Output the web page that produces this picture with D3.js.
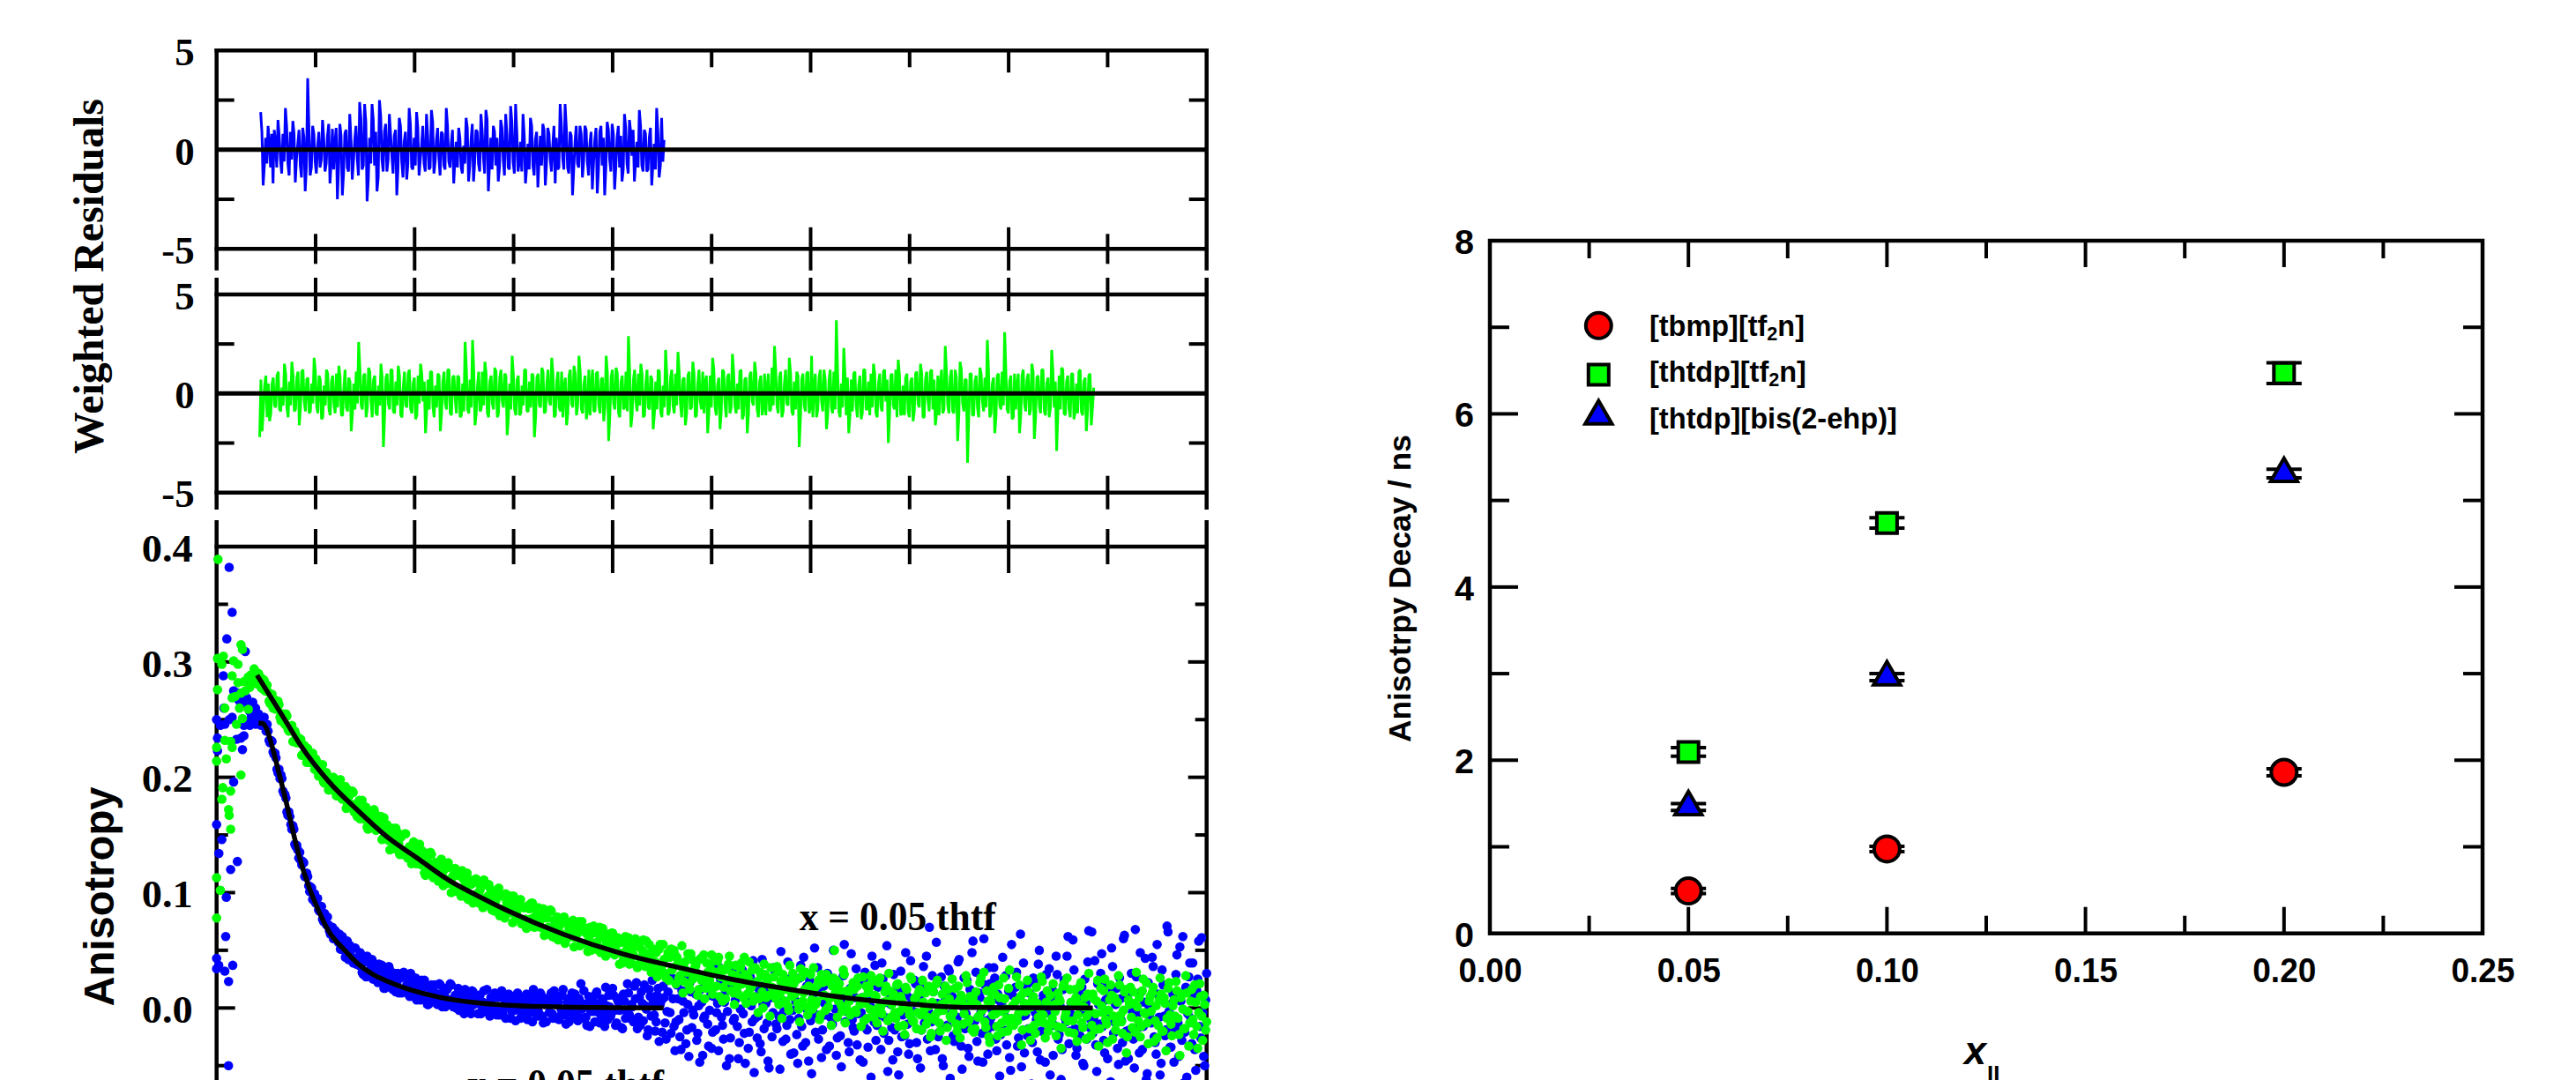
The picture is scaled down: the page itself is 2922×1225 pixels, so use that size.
<!DOCTYPE html>
<html>
<head>
<meta charset="utf-8">
<script src="https://cdn.jsdelivr.net/npm/d3@7"></script>
<style>
  html, body { margin: 0; padding: 0; background: #fff; overflow: hidden; }
  svg { display: block; }
</style>
</head>
<body>
<svg id="fig" width="2922" height="1225"></svg>
<script>
// ================= data =================
// Left stack: time axis runs 0–10 (arbitrary units, 10 minor divisions).

// Weighted residuals of the two fits. "A" samples sit on the residStep grid,
// "B" samples at the midpoints between consecutive "A" samples.
const residStep = 0.025;
const blueResidStart = 0.445;
const blueResidA = [
  1.9,-1.8,0.6,1.2,-0.9,-1.7,0.4,1.5,-0.5,0.8,
  2.1,-0.7,0.9,1.45,-1.65,0.3,-0.8,1.1,-2.1,3.6,
  -1.3,1.2,-0.6,0.2,-0.9,1.5,-1.1,0.7,-1.7,1.05,
  0.3,-2.5,1.3,-2.3,0.8,-0.9,1.8,-1.5,0.5,-0.4,
  2.4,-1.0,2.3,-2.6,0.6,2.3,-0.8,-2.1,2.5,-0.5,
  0.9,-1.1,1.8,-0.3,0.7,-2.3,1.6,-0.6,0.4,-1.5,
  2.1,-0.9,0.6,1.9,-1.3,0.2,-0.7,1.8,-1.0,2.0,
  -1.2,0.5,-0.4,0.9,-0.8,2.1,-0.6,0.3,-1.7,0.4,
  1.1,-0.9,0.2,1.6,-1.6,0.5,-1.6,1.0,-0.7,1.8,
  -0.4,2.0,-2.1,0.6,1.2,-0.8,-1.6,1.5,-0.5,1.8,
  -0.9,2.2,-0.6,2.3,-1.1,0.4,1.8,-1.7,0.3,1.6,
  -0.8,0.5,-1.9,0.7,1.3,-1.8,1.1,-0.5,0.2,-1.7,
  -1.0,2.3,-0.4,2.3,-0.9,0.9,-2.3,0.4,-0.7,1.2,
  -1.4,1.2,-0.6,0.3,-2.0,0.5,-2.2,0.9,-0.8,-2.3,
  1.4,-0.5,1.3,-2.0,0.6,-0.9,-1.6,1.8,-0.7,1.5,
  -0.3,-1.6,0.4,2.0,-0.8,1.0,-1.1,0.6,-1.8,0.3,
  2.1,-1.4,1.6,0.5
];
const blueResidB = [
  0.9,-0.8,-0.7,0.4,0.8,1.0,-0.9,0.7,-1.2,-0.6,
  1.2,-1.3,-0.5,0.8,-0.4,1.0,-1.4,0.6,-0.8,1.1,
  -0.9,0.8,-1.2,0.9,-0.5,0.6,-0.7,1.3,-0.6,-1.0,
  1.1,-0.9,0.7,-1.2,1.0,-1.1,0.5,-0.6,1.2,-1.3,
  1.6,-0.8,1.4,-1.5,-0.7,1.5,0.9,-1.4,1.7,-1.1,
  1.3,-0.5,0.8,-1.2,1.0,-0.9,1.2,-1.4,0.9,-0.7,
  1.3,-1.0,-0.8,1.1,-0.5,1.2,-1.1,0.7,-0.9,1.4,
  -0.6,1.1,-1.3,0.8,-1.0,1.2,-0.9,1.0,-0.5,-0.9,
  0.6,-1.2,-0.7,1.1,-0.8,1.3,-0.6,0.9,-1.1,1.0,
  -1.2,1.5,-0.7,-1.0,0.9,0.6,-0.9,1.1,-1.3,0.8,
  -1.0,1.4,-1.2,0.9,-0.6,-1.1,0.7,-0.8,-1.0,1.2,
  -1.3,0.9,-0.5,-0.8,1.0,-0.7,0.8,-1.1,1.2,0.6,
  -0.9,1.3,-1.0,1.1,-1.2,0.7,-1.0,1.2,-0.9,0.8,
  -0.6,1.0,-1.3,0.9,-0.7,1.1,-1.0,1.2,0.6,-0.8,
  1.0,-1.1,0.8,-0.9,1.2,0.7,-1.0,1.1,-1.2,0.9,
  1.0,-0.6,-0.9,1.2,-1.1,0.8,-1.0,1.1,-0.7,-1.0,
  0.9,-0.8,-0.6
];
const greenResidStart = 0.435;
const greenResidA = [
  -2.2,-1.9,0.4,-1.2,-1.4,0.5,-0.6,0.9,-0.8,0.3,
  1.5,-0.7,0.6,1.6,-0.9,0.8,-1.6,1.1,-0.4,0.7,
  -1.0,0.5,1.8,-0.6,0.9,-1.3,0.4,1.2,-0.8,0.6,
  -0.5,1.0,1.4,-1.1,0.3,-0.7,0.8,-1.9,0.5,1.1,
  2.6,-0.6,0.9,-1.2,1.3,-0.4,0.7,-1.0,0.4,1.5,
  -2.7,0.8,-0.5,1.2,-0.9,0.6,1.4,-1.1,0.3,-0.6,
  1.0,-0.8,0.5,-1.3,0.9,1.5,-0.4,-2.0,0.7,1.1,
  -0.7,0.4,1.0,-1.9,0.6,-0.5,1.2,-1.0,0.8,-0.3,
  0.9,-1.2,0.5,2.6,-0.8,0.7,2.7,-1.6,0.4,-0.9,
  1.1,1.6,-1.0,0.6,-0.5,1.3,-1.2,0.8,-0.4,1.0,
  -2.1,0.5,1.9,-0.8,0.7,-1.1,0.4,1.2,-0.9,0.6,
  1.0,-2.2,0.8,-0.6,1.3,-1.0,0.5,-0.4,1.8,-1.2,
  0.6,-0.7,1.1,0.3,-1.6,0.9,-0.5,1.4,-1.1,1.9,
  -0.8,0.5,-1.3,1.2,0.4,-0.9,1.0,-0.6,0.7,-1.4,
  1.9,-2.4,0.8,-0.5,1.3,-1.0,0.6,-0.8,1.1,2.9,
  -1.7,0.7,-0.4,1.0,1.5,-1.2,0.5,-0.7,0.9,-1.8,
  0.6,1.2,-0.9,0.4,2.2,-1.1,0.8,-0.6,1.0,2.1,
  -0.5,0.7,-1.6,0.9,-0.8,1.6,-1.2,0.5,-0.4,1.1,
  0.6,-2.0,0.9,1.8,-0.7,0.4,-1.8,1.2,-0.5,0.8,
  -1.0,2.0,-0.6,0.5,1.1,-1.3,0.7,-2.0,0.9,-0.4,
  1.6,-0.8,0.6,-1.1,1.0,0.3,-0.9,1.3,2.4,-0.6,
  0.8,-1.2,0.5,-0.5,1.8,-0.9,0.6,1.1,-2.7,0.7,
  -0.6,1.0,-1.0,1.9,0.4,-1.2,0.8,-0.4,1.2,-1.8,
  0.6,-0.7,1.1,3.7,-0.9,0.5,2.3,-1.1,-2.0,0.7,
  1.0,-0.6,0.4,-1.3,1.2,-0.8,0.6,1.0,1.5,-1.0,
  0.5,-0.7,1.1,-0.4,-2.5,0.9,-0.6,1.2,1.7,-1.1,
  0.4,0.8,-0.9,0.6,-1.4,1.0,-0.5,1.5,-1.2,0.7,
  -0.3,1.1,-0.8,-1.6,0.9,0.5,-1.0,2.4,-0.6,0.8,
  -0.9,1.2,-2.4,1.6,-0.5,0.7,-3.5,1.0,-1.1,0.6,
  -0.7,1.3,-0.4,0.8,2.7,-1.2,0.5,-2.0,0.9,-0.6,
  1.1,3.1,-0.8,0.6,-1.3,1.0,0.4,-2.0,0.9,-0.5,
  0.7,-1.1,1.5,-2.3,0.8,-0.6,1.2,-0.9,0.5,-1.2,
  2.2,-0.7,-2.9,0.9,1.3,-1.0,0.6,-0.8,1.0,-1.3,
  0.5,1.1,-0.9,0.6,-1.9,0.9,-1.6,0.3
];
const greenResidB = [
  0.7,-0.8,0.9,0.5,-1.0,0.8,-0.7,1.1,-0.9,-0.6,
  1.0,-1.2,-0.6,0.9,-0.8,1.1,-0.7,1.2,-0.9,0.8,
  -0.9,-0.5,1.1,-1.0,0.7,-1.2,-0.6,1.0,-1.1,0.9,
  -1.0,-0.7,0.8,-1.1,1.2,-0.9,0.6,-1.0,-0.8,-0.5,
  1.3,-0.8,1.0,-0.7,1.1,-1.2,0.9,-1.1,-0.6,0.8,
  -1.1,1.0,-0.8,1.2,-1.0,-0.6,0.9,-1.2,1.1,-0.7,
  1.2,-1.0,0.8,-1.1,-0.5,1.0,0.6,-0.9,-0.8,1.1,
  -1.2,-0.7,0.9,-1.0,1.1,-0.8,1.2,-1.1,0.9,-1.0,
  0.8,-1.1,-0.9,1.3,-1.0,-0.7,1.2,-1.0,1.1,-0.8,
  -0.6,1.0,-1.2,0.9,-0.8,1.1,-1.0,1.2,-0.7,0.9,
  -1.2,-0.8,1.0,-1.1,0.9,-1.0,-0.6,1.2,-0.9,-0.7,
  0.9,-1.2,1.0,-0.7,1.1,-0.9,1.2,-0.6,1.0,-1.1,
  1.1,-0.9,-1.2,0.8,-1.0,1.2,-0.7,1.0,-0.6,1.1,
  -1.0,0.9,-0.8,-1.1,1.2,-0.9,1.1,-1.0,0.8,-0.7,
  1.0,-1.1,1.2,-0.8,1.0,-1.2,0.9,-0.7,-0.9,1.1,
  -1.1,1.2,-0.9,-0.6,1.0,-1.1,1.2,-0.8,0.7,-1.0,
  -0.8,1.1,-1.2,-0.7,1.0,-0.9,1.2,-1.0,-0.6,1.1,
  -1.2,0.8,-1.0,1.1,-0.7,1.0,-1.1,1.2,-0.8,-1.0,
  0.9,-1.0,-0.7,1.2,-1.1,0.8,-0.9,1.1,-1.2,1.0,
  -0.7,1.1,-1.0,-0.8,1.2,-1.1,0.8,-1.0,1.1,-0.6,
  1.0,-1.2,0.9,-0.7,-1.1,1.0,-0.8,-0.6,1.2,-1.0,
  1.1,-0.9,1.2,-0.6,1.0,-1.1,-0.8,0.9,-1.2,1.0,
  -0.9,1.1,-0.7,-1.2,1.0,-0.8,1.2,-0.9,0.7,-1.1,
  1.2,-1.0,-0.8,1.1,-1.2,-0.7,1.0,0.8,-1.1,-0.9,
  1.1,-1.2,0.9,-1.0,1.2,-0.8,-1.1,-0.7,1.0,-1.2,
  1.0,-0.9,1.2,0.7,-1.1,1.0,-0.8,-1.2,0.9,-1.0,
  -1.1,1.0,-1.2,0.8,-0.9,1.1,-0.7,1.0,-1.2,1.1,
  -0.9,1.2,0.7,-1.0,-1.1,1.2,-0.8,1.1,-1.0,1.2,
  -1.0,0.8,-1.1,1.2,-0.9,0.7,-1.2,1.0,-1.1,0.9,
  -1.2,1.0,-0.9,-0.7,1.1,-1.0,0.8,-1.2,1.0,-0.8,
  -0.6,1.1,-1.0,0.9,-1.2,-0.8,1.0,-1.1,1.2,-0.9,
  1.0,-0.8,1.1,-1.2,0.9,-1.0,1.2,-1.1,0.8,-0.7,
  1.1,0.6,-1.0,-0.8,1.2,-1.1,0.9,-1.2,1.0,-0.9,
  -1.0,1.2,-1.1,0.8,-0.9,1.0,-0.7
];

// Anisotropy data, in units of 1e-3.
// Rising edge: irregular [time, r] pairs.
const blueRise = [
  [0.000,250],[0.009,234],[0.009,223],[0.000,159],[0.000,43],[0.000,34],[0.022,37],
  [0.023,134],[0.038,245],[0.053,146],[0.068,288],[0.074,260],[0.083,32],[0.083,246],
  [0.098,96],[0.092,62],[0.103,320],[0.121,23],[0.120,-50],[0.127,382],[0.127,250],
  [0.142,120],[0.157,343],[0.157,252],[0.163,37],[0.172,196],[0.172,275],[0.201,233],
  [0.210,127],[0.216,273],[0.216,268],[0.231,266],[0.246,234],[0.261,224],[0.276,236],
  [0.276,264],[0.276,245],[0.290,309],[0.290,247],[0.305,269],[0.320,260],[0.335,245],
  [0.335,257],[0.350,252],[0.365,265],[0.380,249],[0.394,260],[0.394,246],[0.410,253],[0.424,255]
];
const greenRise = [
  [0.014,389],[0.009,303],[0.068,305],[0.053,298],[0.172,301],[0.216,298],[0.246,315],
  [0.261,311],[0.157,288],[0.216,282],[0.276,283],[0.320,287],[0.379,294],[0.350,289],
  [0.290,275],[0.335,278],[0.246,273],[0.157,269],[0.231,260],[0.320,259],[0.201,246],
  [0.261,251],[0.009,276],[0.083,260],[0.083,232],[0.142,231],[0.157,226],[0.000,226],
  [0.000,214],[0.098,216],[0.246,202],[0.062,191],[0.142,188],[0.053,181],[0.121,172],
  [0.127,167],[0.142,155],[0.000,113],[0.038,102],[0.000,78],[0.365,282],[0.394,286],
  [0.410,281],[0.424,290],[0.305,284],[0.187,270]
];
// Decay: a 0.01 grid stored as two interleaved halves.
// "A" samples sit at decayStartA + i*decayStep, "B" samples at decayStartB + i*decayStep.
const decayStartA = 0.44, decayStartB = 0.45, decayStep = 0.02;
const blueDecayA = [
  251,246,252,240,240,230,231,220,217,204, 199,199,186,182,167,166,155,155,140,137,
  135,124,126,114,114,101,104,97,91,95, 84,88,75,79,79,67,69,60,67,63,
  64,51,56,44,58,47,51,39,52,39, 37,46,29,40,45,30,35,25,38,29,
  38,23,30,17,31,36,22,16,30,22, 13,26,30,16,20,12,30,16,23,7,
  22,7,18,24,10,3,18,11,20,5, 8,20,1,12,17,3,21,5,9,0,
  17,2,9,-5,12,6,-1,15,3,9, -5,11,1,15,-3,4,-7,8,11,-1,
  9,-6,15,0,-9,6,11,-3,4,-11, 13,-1,-7,8,3,-10,10,-4,16,1,
  -7,6,11,-13,3,8,-4,13,-9,4, 10,-10,-1,16,-6,5,-12,7,1,12,
  -6,8,21,-9,3,-15,10,-3,6,-12, 14,-4,-10,7,-16,2,11,-7,17,-2,
  -13,5,9,-18,6,-3,13,-9,1,19, 22,-8,-15,4,20,-1,-19,10,24,-6,
  -12,17,3,-21,9,-27,14,-4,26,-16, -12,8,-25,15,-4,-31,3,22,-17,-6,
  12,-22,-47,5,-9,28,-14,-2,-35,10, -19,4,35,-8,-27,14,-3,-44,18,-11,
  7,-16,-30,24,-5,-48,11,-21,2,41, -9,-26,16,-38,3,20,-13,-52,9,-4,
  30,-18,-7,49,-29,6,-15,25,-40,-2, 13,-23,-9,37,-33,1,19,-46,-11,8,
  52,-6,-27,15,-19,4,-36,28,-8,-14, 22,-41,7,-24,11,55,-3,-30,17,-10,
  -20,34,-5,-45,9,-16,26,-34,2,45, -12,-28,18,-6,39,-22,5,-55,12,-17,
  29,-9,-38,16,-25,3,48,-14,-31,8, -3,21,-44,10,-19,36,-7,-27,70,-12,
  14,-36,4,-21,27,-50,9,-15,32,-5, -24,17,-8,42,-33,1,-18,24,-42,6,
  58,-11,-29,13,-4,-47,20,-20,35,-9, -16,26,-37,7,-23,44,-2,-32,15,-54,
  11,-13,31,-26,64,-7,-39,19,-18,3, -30,22,-10,38,-45,6,-21,29,-4,-58,
  16,-15,45,-27,2,-36,24,-12,62,-20, -6,33,-41,10,-24,18,-50,4,40,-17,
  66,-9,-32,21,-14,47,-28,7,-44,13, 52,-22,3,-35,26,-11,60,-46,9,-19,
  30,-27,68,-5,-39,14,-16,43,-57,1, -13,36,-30,55,-8,-48,20,-24,71,-3,
  -34,12,-18,46,-42,6,62,-21,-60,27, -9,39,-36,15,58,-26,-4,-50,30
];
const blueDecayB = [
  245,251,244,246,232,232,222,221,207,207, 202,188,185,170,170,159,158,142,141,130,
  128,127,114,117,106,105,94,99,91,85, 87,77,82,72,72,64,70,63,65,57,
  51,62,50,56,42,54,44,52,38,44, 48,31,41,27,41,31,42,26,33,22,
  24,37,17,32,24,33,17,27,14,30, 27,13,31,16,26,10,21,12,26,15,
  8,24,11,20,3,17,20,7,13,3, 21,5,14,1,16,7,20,1,11,4,
  -2,12,3,16,0,8,-5,14,5,10, 11,-5,5,0,16,-3,9,2,13,-6,
  0,13,-5,7,2,12,-9,9,-2,6, 10,-9,4,-4,12,-1,7,-12,9,1,
  -3,13,-7,7,-12,4,10,-5,15,-9, 5,-7,11,-2,-14,8,-4,13,-9,2,
  -11,6,-1,15,-8,4,-16,9,-3,12, 3,-13,8,-5,18,-10,1,-4,11,-15,
  7,-2,-17,12,-9,21,-6,3,-12,8, -18,9,14,-11,2,-24,16,-7,5,-20,
  11,-29,6,19,-13,-3,28,-22,8,-37, 20,-10,-36,6,27,-19,-42,14,-2,33,
  -28,2,16,-41,-7,23,-33,11,-21,38, -4,-37,25,-15,5,-50,18,-26,31,-9,
  14,-44,-1,33,-22,9,-35,27,-12,-56, 22,-7,-31,42,-18,4,-46,15,-25,35,
  -14,10,-53,21,-3,-27,40,-10,17,-39, 6,-48,26,-16,44,-30,-2,24,-57,12,
  -21,35,-9,-43,19,-6,30,-33,-15,50, -1,-26,13,-51,28,-12,6,-38,47,-17,
  9,-32,23,-4,-47,31,-19,12,-60,20, 37,-15,-2,-36,25,-8,54,-28,3,-45,
  -19,15,-58,32,-6,-24,11,-40,41,-11, 24,-30,7,-52,17,-13,45,-3,-37,28,
  -8,57,-25,2,-44,19,-16,34,-61,10, -29,4,40,-14,-53,26,-5,-35,16,48,
  -18,31,-46,9,-22,60,-11,-40,21,-1, 35,-27,12,-59,3,-19,28,-9,-43,55,
  -13,18,-33,8,-51,39,-6,-24,13,-66, 26,-4,-38,50,-20,11,-47,2,34,-15,
  -41,7,29,-23,-62,16,-9,45,-31,4, 59,-18,-35,12,-3,-48,25,-27,67,-10,
  -22,41,-55,3,30,-16,-39,20,-6,-64, 36,-12,17,-49,8,-30,63,-20,-44,14,
  -3,-52,27,-17,48,-36,5,-62,22,-9, 44,-25,-40,12,-58,33,-7,-19,66,-34,
  4,-47,29,-13,53,-28,-65,18,-5,39, -31,10,-54,25,-16,61,-42,7
];
const greenDecayA = [
  287,277,284,275,274,264,272,267,259,266, 252,255,249,255,242,243,245,231,237,230,
  231,219,228,220,225,213,216,212,216,205, 208,210,196,203,195,189,198,200,189,184,
  196,185,186,192,176,184,174,187,174,166, 180,172,164,172,157,170,166,158,169,156,
  157,166,147,156,159,145,149,138,151,153, 142,148,133,151,135,139,130,139,143,125,
  134,127,136,117,133,126,135,117,121,126, 110,126,115,120,108,126,108,113,103,116,
  115,102,119,105,107,94,111,108,98,112, 93,102,95,111,92,97,104,85,100,93,
  97,80,98,86,99,82,89,85,97,79, 87,92,73,87,77,70,86,91,78,71,
  85,73,77,86,67,78,68,84,70,61, 79,71,62,74,56,74,69,62,76,61,
  64,75,56,67,69,56,61,50,65,68, 57,64,48,69,52,57,49,59,65,46,
  55,48,59,39,57,50,61,42,47,53, 37,56,43,50,37,58,39,45,35,50,
  48,32,55,37,42,26,48,44,33,50, 21,39,28,54,23,33,47,16,42,29,
  37,11,42,24,46,17,31,24,46,18, 31,41,10,34,18,8,35,45,23,13,
  37,18,24,39,9,29,12,40,18,6, 35,23,8,28,0,29,23,11,35,13,
  16,36,3,23,29,6,16,-2,24,30, 12,25,-1,34,6,16,1,19,29,-1,
  17,6,24,-6,22,11,29,1,9,19, 50,24,6,15,-3,29,1,10,-6,18,
  16,-4,26,3,9,-11,19,13,-1,23, -8,10,0,26,-5,5,19,-11,15,3,
  12,-9,21,-3,7,-15,18,1,-6,25, -12,9,-4,16,-19,5,13,-8,2,-22,
  14,-6,24,-13,3,-2,19,-17,8,-9, -4,17,-20,6,11,-14,1,22,-10,4,
  9,-18,3,-7,26,-1,-12,15,-25,5, -6,12,-16,20,-3,-21,8,-9,17,-14,
  2,-11,27,-5,10,-19,4,-2,14,-28, 7,-15,18,-8,-1,23,-13,5,-20,11,
  -9,3,-24,13,6,-17,21,-4,-11,16, 4,-22,9,-6,19,-13,1,-27,12,-3,
  -15,8,-5,24,-18,2,15,-10,-30,7, 11,-7,-19,5,20,-12,-2,16,-25,3,
  -8,14,-21,1,9,-16,25,-5,-13,6, -3,18,-11,-26,7,12,-20,4,-9,22,
  -14,2,-7,15,-23,9,-1,-18,13,-33, 6,-10,20,-16,-4,10,-28,3,-12
];
const greenDecayB = [
  278,285,275,280,266,272,260,267,260,263, 249,255,246,253,240,243,231,240,230,234,
  233,220,227,213,221,214,221,207,214,201, 202,211,195,204,189,199,189,198,184,194,
  198,181,189,173,189,177,188,170,177,168, 164,180,165,174,155,169,161,172,154,166,
  163,146,165,147,155,137,156,144,156,137, 133,149,136,151,130,140,125,144,131,138,
  142,124,130,115,134,121,133,113,126,119, 112,129,106,121,111,122,100,115,121,101,
  117,97,112,100,117,95,107,91,109,99, 91,105,87,108,93,107,88,96,84,101,
  104,83,97,78,92,83,97,74,91,82, 78,94,73,87,69,89,77,91,70,81,
  87,70,79,63,82,70,85,62,76,65, 59,77,64,79,59,73,64,75,53,69,
  71,54,75,56,65,49,70,56,71,51, 54,70,49,61,45,64,53,65,47,59,
  61,38,57,42,62,45,38,55,46,60, 35,53,41,59,36,47,55,31,51,40,
  27,51,34,55,30,44,24,51,35,46, 44,26,36,13,40,31,20,47,25,35,
  30,16,43,27,8,39,22,34,12,41, 19,44,27,6,33,24,38,15,29,3,
  28,12,35,21,44,4,26,17,33,10, 22,-4,31,14,38,9,25,-7,18,27,
  8,33,12,-9,26,19,2,37,10,21, 24,4,-12,27,13,31,-6,16,7,35,
  3,20,-10,29,11,-2,23,8,-15,26, 13,-8,21,2,33,-13,15,6,-4,22,
  -2,19,8,-16,27,4,-9,17,28,-5, 11,-13,22,1,-20,14,6,30,-8,9,
  -4,20,-16,10,3,-23,16,-2,27,-11, 8,-18,13,-6,24,-1,-14,19,-25,5,
  -10,21,-3,-20,12,4,-28,16,-7,25, 3,-14,19,-26,7,-5,28,-12,10,-19,
  -21,14,-8,22,-2,31,-17,6,-30,12, 18,-5,-24,9,-13,26,-1,-20,33,-9,
  -15,6,-11,20,-32,13,-3,24,-18,1, 10,-22,4,-12,27,-6,-26,15,2,-14,
  21,-3,-16,8,-35,19,-8,26,-21,5, -11,16,-29,3,22,-17,9,-7,30,-24,
  12,-19,6,-33,17,-4,25,-14,-2,20, -27,9,-13,28,-6,-22,14,-39,7,18,
  -17,4,31,-11,-25,15,-4,22,-31,10, 13,-29,2,-15,26,-20,9,-37,17,-6,
  -24,7,23,-9,-41,12,-18,28,-3,-13, 16,-23,5,-35,21,-7,11,-19
];

// Fitted decay curves [time, r].
const blueFit = [
  [0.424,0.247],[0.46,0.247],[0.50,0.243],[0.543,0.232],[0.632,0.203],[0.721,0.172],
  [0.780,0.150],[0.839,0.130],[0.928,0.106],[1.017,0.087],[1.136,0.066],[1.284,0.051],
  [1.433,0.038],[1.581,0.029],[1.730,0.023],[2.026,0.014],[2.323,0.0081],[2.620,0.0046],
  [2.916,0.0025],[3.510,0.0008],[4.0,0.0003],[4.515,0.0]
];
const greenFit = [
  [0.409,0.2885],[0.543,0.270],[0.691,0.2497],[0.839,0.229],[1.136,0.196],[1.433,0.1707],
  [1.730,0.1478],[2.026,0.130],[2.323,0.112],[2.620,0.098],[2.916,0.0853],[3.510,0.0637],
  [4.10,0.047],[4.578,0.0369],[5.171,0.0255],[5.764,0.0165],[6.357,0.0089],[6.95,0.0038],
  [7.544,0.0005],[8.85,0.0]
];

const residTickLabels = [-5, 0, 5];
const anisoTickLabels = [0, 0.1, 0.2, 0.3, 0.4];
const curveLabel = 'x = 0.05 thtf';

// Right: anisotropy decay time vs ionic-liquid mole fraction.
const ilFraction = [0.05, 0.10, 0.20];
const tbmpTf2n = [0.49, 0.975, 1.86];
const tbmpTf2nErr = [0.03, 0.03, 0.04];
const thtdpTf2n = [2.095, 4.74, 6.47];
const thtdpTf2nErr = [0.05, 0.06, 0.12];
const thtdpBis = [1.46, 2.96, 5.31];
const thtdpBisErr = [0.04, 0.04, 0.05];
const rightXTicks = [0, 0.05, 0.10, 0.15, 0.20, 0.25];
const rightYTicks = [0, 2, 4, 6, 8];

// ================= drawing =================
const SERIF = "'Liberation Serif','Times New Roman',Times,serif";
const SANS = "'Liberation Sans',Arial,Helvetica,sans-serif";
const BLUE = '#0000ff', GREEN = '#00ff00', RED = '#ff0000';
const svg = d3.select('#fig');

// stretch/squeeze a plain text run to an exact length
function fitLength(sel, len) {
  sel.attr('textLength', len).attr('lengthAdjust', 'spacingAndGlyphs');
}
// interleave grid samples with their midpoint samples
function interleave(a, b) {
  const out = [];
  a.forEach((v, i) => { out.push(v); if (i < b.length) out.push(b[i]); });
  return out;
}

// ---------- left stack ----------
const LX0 = 245.7, LX1 = 1368.7;
const P1 = { top: 57.3, bottom: 282.3 };
const P2 = { top: 334, bottom: 558.7 };
const P3 = { top: 620, zero: 1143.3 };

const xL = d3.scaleLinear().domain([0, 10]).range([LX0, LX1]);
const y1 = d3.scaleLinear().domain([-5, 5]).range([P1.bottom, P1.top]);
const y2 = d3.scaleLinear().domain([-5, 5]).range([P2.bottom, P2.top]);
const y3 = d3.scaleLinear().domain([0, 0.4]).range([P3.zero, P3.top]);

const left = svg.append('g');
const frame = left.append('g').attr('stroke', '#000').attr('fill', 'none');

function hLine(y) {
  frame.append('line').attr('x1', LX0 - 2.2).attr('x2', LX1 + 2.2)
    .attr('y1', y).attr('y2', y).attr('stroke-width', 4.5);
}
function vLines(yA, yB) {
  [LX0, LX1].forEach(x => frame.append('line').attr('x1', x).attr('x2', x)
    .attr('y1', yA).attr('y2', yB).attr('stroke-width', 4.5));
}
function xTicks(y, major, minor) {
  const vals = xL.ticks(10).filter(d => d > 0 && d < 10);
  frame.selectAll(null).data(vals).join('line')
    .attr('x1', d => xL(d)).attr('x2', d => xL(d))
    .attr('y1', d => y + (d % 2 === 0 ? major[0] : minor[0]))
    .attr('y2', d => y + (d % 2 === 0 ? major[1] : minor[1]))
    .attr('stroke-width', 4);
}
function yTicks(scale, vals, lenOf) {
  frame.selectAll(null).data(vals).join('line')
    .attr('x1', LX0).attr('x2', d => LX0 + lenOf(d))
    .attr('y1', d => scale(d)).attr('y2', d => scale(d)).attr('stroke-width', 4);
  frame.selectAll(null).data(vals).join('line')
    .attr('x1', LX1).attr('x2', d => LX1 - lenOf(d))
    .attr('y1', d => scale(d)).attr('y2', d => scale(d)).attr('stroke-width', 4);
}

// panel frames
hLine(P1.top); hLine(P1.bottom); vLines(P1.top - 2.2, 306.7);
hLine(P2.top); hLine(P2.bottom); vLines(315, 578);
hLine(P3.top); vLines(590, 1300);

xTicks(P1.top, [0, 25], [0, 19]);
xTicks(P1.bottom, [-24.5, 24.5], [-17, 17]);
xTicks(P2.top, [-19, 19], [-19, 19]);
xTicks(P2.bottom, [-19, 19], [-19, 19]);
xTicks(P3.top, [-30, 30], [-20, 20]);

yTicks(y1, [-2.5, 2.5], () => 20);
yTicks(y2, [-2.5, 2.5], () => 20);
const anisoTickVals = d3.range(-1, 8).map(k => k * 0.05);
yTicks(y3, anisoTickVals, d => (Math.round(d * 20) % 2 === 0 ? 21 : 13));

// residual traces
const halfStep = residStep / 2;
const resLine = (ys, t0) => d3.line()
  .x((d, i) => xL(t0 + i * halfStep))
  .y(d => ys(d));
left.append('path').datum(interleave(blueResidA, blueResidB))
  .attr('d', resLine(y1, blueResidStart))
  .attr('fill', 'none').attr('stroke', BLUE).attr('stroke-width', 3).attr('stroke-linejoin', 'bevel');
left.append('path').datum(interleave(greenResidA, greenResidB))
  .attr('d', resLine(y2, greenResidStart))
  .attr('fill', 'none').attr('stroke', GREEN).attr('stroke-width', 3).attr('stroke-linejoin', 'bevel');

// zero lines
[y1, y2].forEach(s => left.append('line')
  .attr('x1', LX0).attr('x2', LX1).attr('y1', s(0)).attr('y2', s(0))
  .attr('stroke', '#000').attr('stroke-width', 5));

// residual tick labels
[y1, y2].forEach(s => {
  const ax = left.append('g').attr('transform', `translate(${LX0},0)`)
    .call(d3.axisLeft(s).tickValues(residTickLabels).tickSize(0).tickPadding(25).tickFormat(d => String(d)));
  ax.select('.domain').remove();
  ax.selectAll('text').attr('dy', '0.36em')
    .style('font-family', SERIF).style('font-weight', 'bold').style('font-size', '45px').attr('fill', '#000');
});

// anisotropy tick labels
{
  const ax = left.append('g').attr('transform', `translate(${LX0},0)`)
    .call(d3.axisLeft(y3).tickValues(anisoTickLabels).tickSize(0).tickPadding(27).tickFormat(d3.format('.1f')));
  ax.select('.domain').remove();
  ax.selectAll('text').attr('dy', '0.36em')
    .style('font-family', SERIF).style('font-weight', 'bold').style('font-size', '45px').attr('fill', '#000')
    .call(fitLength, 58);
}

// anisotropy scatter
const toPts = (rise, a, b) => rise.map(d => ({ t: d[0], r: d[1] / 1000 }))
  .concat(a.map((v, i) => ({ t: decayStartA + i * decayStep, r: v / 1000 })))
  .concat(b.map((v, i) => ({ t: decayStartB + i * decayStep, r: v / 1000 })));
const bluePts = toPts(blueRise, blueDecayA, blueDecayB);
const greenPts = toPts(greenRise, greenDecayA, greenDecayB);

left.append('g').attr('fill', BLUE).selectAll('circle').data(bluePts).join('circle')
  .attr('cx', d => xL(d.t)).attr('cy', d => y3(d.r)).attr('r', 5.3);
left.append('g').attr('fill', GREEN).selectAll('circle').data(greenPts).join('circle')
  .attr('cx', d => xL(d.t)).attr('cy', d => y3(d.r)).attr('r', 5.3);

// fits
const fitLine = d3.line().x(d => xL(d[0])).y(d => y3(d[1])).curve(d3.curveMonotoneX);
[blueFit, greenFit].forEach(f => left.append('path').datum(f).attr('d', fitLine)
  .attr('fill', 'none').attr('stroke', '#000').attr('stroke-width', 5.5));

// curve labels
left.append('text').attr('x', 906.7).attr('y', 1055)
  .style('font-family', SERIF).style('font-weight', 'bold').style('font-size', '47px')
  .text(curveLabel).call(fitLength, 223);
left.append('text').attr('x', 530).attr('y', 1244.5)
  .style('font-family', SERIF).style('font-weight', 'bold').style('font-size', '47px')
  .text(curveLabel).call(fitLength, 223);

// axis titles
left.append('text').attr('transform', 'translate(116.5,313.5) rotate(-90)')
  .attr('text-anchor', 'middle')
  .style('font-family', SERIF).style('font-weight', 'bold').style('font-size', '48px')
  .text('Weighted Residuals').call(fitLength, 403);
left.append('text').attr('transform', 'translate(128.5,1017) rotate(-90)')
  .attr('text-anchor', 'middle')
  .style('font-family', SANS).style('font-weight', 'bold').style('font-size', '48px')
  .text('Anisotropy').call(fitLength, 249);

// ---------- right panel ----------
const RX0 = 1690, RX1 = 2816, RY0 = 1058.7, RY1 = 273;
const xR = d3.scaleLinear().domain([0, 0.25]).range([RX0, RX1]);
const yR = d3.scaleLinear().domain([0, 8]).range([RY0, RY1]);
const right = svg.append('g');

right.append('rect').attr('x', RX0).attr('y', RY1).attr('width', RX1 - RX0).attr('height', RY0 - RY1)
  .attr('fill', 'none').attr('stroke', '#000').attr('stroke-width', 4.5);

const rt = right.append('g').attr('stroke', '#000').attr('stroke-width', 4);
const xTickK = d3.range(1, 10);
rt.selectAll(null).data(xTickK).join('line')
  .attr('x1', k => xR(k * 0.025)).attr('x2', k => xR(k * 0.025))
  .attr('y1', RY0).attr('y2', k => RY0 - (k % 2 === 0 ? 30 : 20));
rt.selectAll(null).data(xTickK).join('line')
  .attr('x1', k => xR(k * 0.025)).attr('x2', k => xR(k * 0.025))
  .attr('y1', RY1).attr('y2', k => RY1 + (k % 2 === 0 ? 30 : 20));
const yTickK = d3.range(1, 8);
rt.selectAll(null).data(yTickK).join('line')
  .attr('x1', RX0).attr('x2', k => RX0 + (k % 2 === 0 ? 32 : 22))
  .attr('y1', k => yR(k)).attr('y2', k => yR(k));
rt.selectAll(null).data(yTickK).join('line')
  .attr('x1', RX1).attr('x2', k => RX1 - (k % 2 === 0 ? 32 : 22))
  .attr('y1', k => yR(k)).attr('y2', k => yR(k));

{
  const ax = right.append('g').attr('transform', `translate(0,${RY0})`)
    .call(d3.axisBottom(xR).tickValues(rightXTicks).tickSize(0).tickPadding(28).tickFormat(d3.format('.2f')));
  ax.select('.domain').remove();
  ax.selectAll('text').style('font-family', SANS).style('font-weight', 'bold').style('font-size', '39px')
    .attr('fill', '#000').call(fitLength, 72);
}
{
  const ax = right.append('g').attr('transform', `translate(${RX0},0)`)
    .call(d3.axisLeft(yR).tickValues(rightYTicks).tickSize(0).tickPadding(18).tickFormat(d3.format('d')));
  ax.select('.domain').remove();
  ax.selectAll('text').attr('dy', '0.37em')
    .style('font-family', SANS).style('font-weight', 'bold').style('font-size', '39px')
    .attr('fill', '#000').call(fitLength, 22);
}

// series
const series = [
  { name: '[tbmp][tf₂n]', vals: tbmpTf2n, err: tbmpTf2nErr, fill: RED, sym: d3.symbolCircle, size: 660, w: 176 },
  { name: '[thtdp][tf₂n]', vals: thtdpTf2n, err: thtdpTf2nErr, fill: GREEN, sym: d3.symbolSquare, size: 530, w: 178 },
  { name: '[thtdp][bis(2-ehp)]', vals: thtdpBis, err: thtdpBisErr, fill: BLUE, sym: d3.symbolTriangle, size: 400, w: 281 }
];
series.forEach(s => {
  const pts = ilFraction.map((x, i) => ({ x, y: s.vals[i], e: s.err[i] }));
  const eb = right.append('g').attr('stroke', '#000').attr('stroke-width', 4);
  eb.selectAll(null).data(pts).join('line')
    .attr('x1', d => xR(d.x)).attr('x2', d => xR(d.x))
    .attr('y1', d => yR(d.y - d.e)).attr('y2', d => yR(d.y + d.e));
  [-1, 1].forEach(sg => eb.selectAll(null).data(pts).join('line')
    .attr('x1', d => xR(d.x) - 20).attr('x2', d => xR(d.x) + 20)
    .attr('y1', d => yR(d.y + sg * d.e)).attr('y2', d => yR(d.y + sg * d.e)));
});
series.forEach(s => {
  const pts = ilFraction.map((x, i) => ({ x, y: s.vals[i] }));
  right.append('g').selectAll('path').data(pts).join('path')
    .attr('transform', d => `translate(${xR(d.x)},${yR(d.y)})`)
    .attr('d', d3.symbol(s.sym, s.size)())
    .attr('fill', s.fill).attr('stroke', '#000').attr('stroke-width', 4);
});

// legend
const legendY = [381, 433, 486];
const legendMarkY = [369.3, 425, 472];
series.forEach((s, i) => {
  right.append('path').attr('transform', `translate(1813.3,${legendMarkY[i]})`)
    .attr('d', d3.symbol(s.sym, s.size)())
    .attr('fill', s.fill).attr('stroke', '#000').attr('stroke-width', 4);
  const g = right.append('g').attr('transform', `translate(1871,${legendY[i]})`);
  const t = g.append('text')
    .style('font-family', SANS).style('font-weight', 'bold').style('font-size', '33px');
  const parts = s.name.split('₂');
  if (parts.length === 2) {
    t.append('tspan').text(parts[0]);
    t.append('tspan').attr('dy', 5).style('font-size', '22px').text('2');
    t.append('tspan').attr('dy', -5).text(parts[1]);
  } else {
    t.text(s.name);
  }
  const natural = t.node().getComputedTextLength();
  if (natural > 0) g.attr('transform', `translate(1871,${legendY[i]}) scale(${s.w / natural},1)`);
});

// right axis titles
right.append('text').attr('transform', 'translate(1600,667.6) rotate(-90)')
  .attr('text-anchor', 'middle')
  .style('font-family', SANS).style('font-weight', 'bold').style('font-size', '35.5px')
  .text('Anisotrpy Decay / ns').call(fitLength, 349);
right.append('text').attr('x', 2228).attr('y', 1207)
  .style('font-family', SANS).style('font-weight', 'bold').style('font-style', 'italic').style('font-size', '45px')
  .text('x');
right.append('text').attr('x', 2254).attr('y', 1227.5)
  .style('font-family', SANS).style('font-weight', 'bold').style('font-size', '27px')
  .text('IL').call(fitLength, 23);
</script>
</body>
</html>
